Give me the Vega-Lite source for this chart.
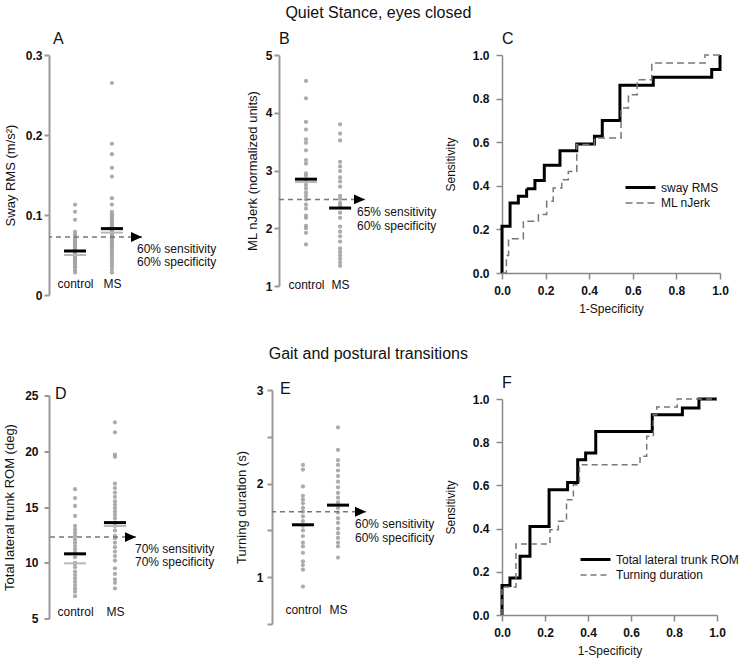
{
  "$schema": "https://vega.github.io/schema/vega-lite/v6.json",
  "background": "white",
  "padding": {"left": 3, "top": 5, "right": 5, "bottom": 5},
  "datasets": {
    "strip": [
      {"panel":"A","group":"control","value":0.113},{"panel":"A","group":"control","value":0.104},{"panel":"A","group":"control","value":0.094},{"panel":"A","group":"control","value":0.079},{"panel":"A","group":"control","value":0.076},{"panel":"A","group":"control","value":0.073},{"panel":"A","group":"control","value":0.071},{"panel":"A","group":"control","value":0.069},{"panel":"A","group":"control","value":0.067},{"panel":"A","group":"control","value":0.065},{"panel":"A","group":"control","value":0.063},{"panel":"A","group":"control","value":0.061},{"panel":"A","group":"control","value":0.059},{"panel":"A","group":"control","value":0.057},{"panel":"A","group":"control","value":0.055},{"panel":"A","group":"control","value":0.053},{"panel":"A","group":"control","value":0.051},{"panel":"A","group":"control","value":0.05},{"panel":"A","group":"control","value":0.048},{"panel":"A","group":"control","value":0.046},{"panel":"A","group":"control","value":0.044},{"panel":"A","group":"control","value":0.042},{"panel":"A","group":"control","value":0.04},{"panel":"A","group":"control","value":0.038},{"panel":"A","group":"control","value":0.036},{"panel":"A","group":"control","value":0.034},{"panel":"A","group":"control","value":0.031},{"panel":"A","group":"control","value":0.028},
      {"panel":"A","group":"MS","value":0.265},{"panel":"A","group":"MS","value":0.189},{"panel":"A","group":"MS","value":0.176},{"panel":"A","group":"MS","value":0.159},{"panel":"A","group":"MS","value":0.148},{"panel":"A","group":"MS","value":0.121},{"panel":"A","group":"MS","value":0.113},{"panel":"A","group":"MS","value":0.104},{"panel":"A","group":"MS","value":0.101},{"panel":"A","group":"MS","value":0.099},{"panel":"A","group":"MS","value":0.097},{"panel":"A","group":"MS","value":0.095},{"panel":"A","group":"MS","value":0.093},{"panel":"A","group":"MS","value":0.091},{"panel":"A","group":"MS","value":0.089},{"panel":"A","group":"MS","value":0.087},{"panel":"A","group":"MS","value":0.085},{"panel":"A","group":"MS","value":0.083},{"panel":"A","group":"MS","value":0.081},{"panel":"A","group":"MS","value":0.079},{"panel":"A","group":"MS","value":0.077},{"panel":"A","group":"MS","value":0.075},{"panel":"A","group":"MS","value":0.073},{"panel":"A","group":"MS","value":0.071},{"panel":"A","group":"MS","value":0.069},{"panel":"A","group":"MS","value":0.067},{"panel":"A","group":"MS","value":0.065},{"panel":"A","group":"MS","value":0.063},{"panel":"A","group":"MS","value":0.061},{"panel":"A","group":"MS","value":0.059},{"panel":"A","group":"MS","value":0.057},{"panel":"A","group":"MS","value":0.054},{"panel":"A","group":"MS","value":0.051},{"panel":"A","group":"MS","value":0.048},{"panel":"A","group":"MS","value":0.045},{"panel":"A","group":"MS","value":0.042},{"panel":"A","group":"MS","value":0.039},{"panel":"A","group":"MS","value":0.036},{"panel":"A","group":"MS","value":0.032},{"panel":"A","group":"MS","value":0.028},
      {"panel":"B","group":"control","value":4.55},{"panel":"B","group":"control","value":4.25},{"panel":"B","group":"control","value":3.84},{"panel":"B","group":"control","value":3.71},{"panel":"B","group":"control","value":3.54},{"panel":"B","group":"control","value":3.48},{"panel":"B","group":"control","value":3.35},{"panel":"B","group":"control","value":3.18},{"panel":"B","group":"control","value":3.12},{"panel":"B","group":"control","value":2.95},{"panel":"B","group":"control","value":2.91},{"panel":"B","group":"control","value":2.81},{"panel":"B","group":"control","value":2.75},{"panel":"B","group":"control","value":2.69},{"panel":"B","group":"control","value":2.62},{"panel":"B","group":"control","value":2.56},{"panel":"B","group":"control","value":2.5},{"panel":"B","group":"control","value":2.41},{"panel":"B","group":"control","value":2.34},{"panel":"B","group":"control","value":2.22},{"panel":"B","group":"control","value":2.18},{"panel":"B","group":"control","value":2.04},{"panel":"B","group":"control","value":2.0},{"panel":"B","group":"control","value":1.92},{"panel":"B","group":"control","value":1.72},
      {"panel":"B","group":"MS","value":3.8},{"panel":"B","group":"MS","value":3.64},{"panel":"B","group":"MS","value":3.52},{"panel":"B","group":"MS","value":3.15},{"panel":"B","group":"MS","value":3.07},{"panel":"B","group":"MS","value":2.99},{"panel":"B","group":"MS","value":2.88},{"panel":"B","group":"MS","value":2.81},{"panel":"B","group":"MS","value":2.72},{"panel":"B","group":"MS","value":2.56},{"panel":"B","group":"MS","value":2.51},{"panel":"B","group":"MS","value":2.44},{"panel":"B","group":"MS","value":2.4},{"panel":"B","group":"MS","value":2.27},{"panel":"B","group":"MS","value":2.18},{"panel":"B","group":"MS","value":2.03},{"panel":"B","group":"MS","value":1.94},{"panel":"B","group":"MS","value":1.86},{"panel":"B","group":"MS","value":1.77},{"panel":"B","group":"MS","value":1.65},{"panel":"B","group":"MS","value":1.59},{"panel":"B","group":"MS","value":1.53},{"panel":"B","group":"MS","value":1.47},{"panel":"B","group":"MS","value":1.41},{"panel":"B","group":"MS","value":1.35},
      {"panel":"D","group":"control","value":16.6},{"panel":"D","group":"control","value":15.8},{"panel":"D","group":"control","value":15.1},{"panel":"D","group":"control","value":14.2},{"panel":"D","group":"control","value":13.3},{"panel":"D","group":"control","value":13.0},{"panel":"D","group":"control","value":12.7},{"panel":"D","group":"control","value":12.4},{"panel":"D","group":"control","value":12.1},{"panel":"D","group":"control","value":11.8},{"panel":"D","group":"control","value":11.5},{"panel":"D","group":"control","value":11.2},{"panel":"D","group":"control","value":10.9},{"panel":"D","group":"control","value":10.5},{"panel":"D","group":"control","value":10.0},{"panel":"D","group":"control","value":9.9},{"panel":"D","group":"control","value":9.6},{"panel":"D","group":"control","value":9.2},{"panel":"D","group":"control","value":8.9},{"panel":"D","group":"control","value":8.6},{"panel":"D","group":"control","value":8.3},{"panel":"D","group":"control","value":8.0},{"panel":"D","group":"control","value":7.7},{"panel":"D","group":"control","value":7.4},{"panel":"D","group":"control","value":7.0},
      {"panel":"D","group":"MS","value":22.6},{"panel":"D","group":"MS","value":21.7},{"panel":"D","group":"MS","value":19.7},{"panel":"D","group":"MS","value":19.5},{"panel":"D","group":"MS","value":17.1},{"panel":"D","group":"MS","value":16.7},{"panel":"D","group":"MS","value":16.3},{"panel":"D","group":"MS","value":15.9},{"panel":"D","group":"MS","value":15.5},{"panel":"D","group":"MS","value":15.2},{"panel":"D","group":"MS","value":14.9},{"panel":"D","group":"MS","value":14.6},{"panel":"D","group":"MS","value":14.3},{"panel":"D","group":"MS","value":14.0},{"panel":"D","group":"MS","value":13.6},{"panel":"D","group":"MS","value":13.3},{"panel":"D","group":"MS","value":12.9},{"panel":"D","group":"MS","value":12.4},{"panel":"D","group":"MS","value":12.2},{"panel":"D","group":"MS","value":11.8},{"panel":"D","group":"MS","value":11.4},{"panel":"D","group":"MS","value":11.0},{"panel":"D","group":"MS","value":10.6},{"panel":"D","group":"MS","value":10.2},{"panel":"D","group":"MS","value":9.5},{"panel":"D","group":"MS","value":9.0},{"panel":"D","group":"MS","value":8.5},{"panel":"D","group":"MS","value":8.2},{"panel":"D","group":"MS","value":7.7},
      {"panel":"E","group":"control","value":2.2},{"panel":"E","group":"control","value":2.15},{"panel":"E","group":"control","value":1.97},{"panel":"E","group":"control","value":1.87},{"panel":"E","group":"control","value":1.83},{"panel":"E","group":"control","value":1.79},{"panel":"E","group":"control","value":1.74},{"panel":"E","group":"control","value":1.7},{"panel":"E","group":"control","value":1.65},{"panel":"E","group":"control","value":1.6},{"panel":"E","group":"control","value":1.55},{"panel":"E","group":"control","value":1.5},{"panel":"E","group":"control","value":1.44},{"panel":"E","group":"control","value":1.37},{"panel":"E","group":"control","value":1.33},{"panel":"E","group":"control","value":1.26},{"panel":"E","group":"control","value":1.17},{"panel":"E","group":"control","value":1.13},{"panel":"E","group":"control","value":1.08},{"panel":"E","group":"control","value":0.9},
      {"panel":"E","group":"MS","value":2.6},{"panel":"E","group":"MS","value":2.36},{"panel":"E","group":"MS","value":2.25},{"panel":"E","group":"MS","value":2.2},{"panel":"E","group":"MS","value":2.14},{"panel":"E","group":"MS","value":2.08},{"panel":"E","group":"MS","value":2.02},{"panel":"E","group":"MS","value":1.96},{"panel":"E","group":"MS","value":1.9},{"panel":"E","group":"MS","value":1.85},{"panel":"E","group":"MS","value":1.8},{"panel":"E","group":"MS","value":1.74},{"panel":"E","group":"MS","value":1.69},{"panel":"E","group":"MS","value":1.63},{"panel":"E","group":"MS","value":1.58},{"panel":"E","group":"MS","value":1.52},{"panel":"E","group":"MS","value":1.47},{"panel":"E","group":"MS","value":1.42},{"panel":"E","group":"MS","value":1.37},{"panel":"E","group":"MS","value":1.33},{"panel":"E","group":"MS","value":1.21}
    ],
    "stats": [
      {"panel":"A","group":"control","stat":"mean","value":0.055},{"panel":"A","group":"control","stat":"median","value":0.05},
      {"panel":"A","group":"MS","stat":"mean","value":0.083},{"panel":"A","group":"MS","stat":"median","value":0.078},
      {"panel":"B","group":"control","stat":"mean","value":2.85},{"panel":"B","group":"control","stat":"median","value":2.8},
      {"panel":"B","group":"MS","stat":"mean","value":2.35},
      {"panel":"D","group":"control","stat":"mean","value":10.8},{"panel":"D","group":"control","stat":"median","value":9.95},
      {"panel":"D","group":"MS","stat":"mean","value":13.6},{"panel":"D","group":"MS","stat":"median","value":13.3},
      {"panel":"E","group":"control","stat":"mean","value":1.56},
      {"panel":"E","group":"MS","stat":"mean","value":1.77}
    ],
    "thr": [
      {"panel":"A","threshold":0.0725,"line1":"60% sensitivity","line2":"60% specificity"},
      {"panel":"B","threshold":2.5,"line1":"65% sensitivity","line2":"60% specificity"},
      {"panel":"D","threshold":12.3,"line1":"70% sensitivity","line2":"70% specificity"},
      {"panel":"E","threshold":1.7,"line1":"60% sensitivity","line2":"60% specificity"}
    ],
    "roc": [
      {"panel":"C","series":"sway RMS","i":0,"fpr":0,"tpr":0},{"panel":"C","series":"sway RMS","i":1,"fpr":0,"tpr":0.214},{"panel":"C","series":"sway RMS","i":2,"fpr":0.037,"tpr":0.321},{"panel":"C","series":"sway RMS","i":3,"fpr":0.075,"tpr":0.352},{"panel":"C","series":"sway RMS","i":4,"fpr":0.113,"tpr":0.387},{"panel":"C","series":"sway RMS","i":5,"fpr":0.151,"tpr":0.424},{"panel":"C","series":"sway RMS","i":6,"fpr":0.194,"tpr":0.494},{"panel":"C","series":"sway RMS","i":7,"fpr":0.266,"tpr":0.561},{"panel":"C","series":"sway RMS","i":8,"fpr":0.343,"tpr":0.592},{"panel":"C","series":"sway RMS","i":9,"fpr":0.424,"tpr":0.627},{"panel":"C","series":"sway RMS","i":10,"fpr":0.46,"tpr":0.699},{"panel":"C","series":"sway RMS","i":11,"fpr":0.541,"tpr":0.861},{"panel":"C","series":"sway RMS","i":12,"fpr":0.694,"tpr":0.898},{"panel":"C","series":"sway RMS","i":13,"fpr":0.962,"tpr":0.933},{"panel":"C","series":"sway RMS","i":14,"fpr":1.0,"tpr":1.0},
      {"panel":"C","series":"ML nJerk","i":0,"fpr":0,"tpr":0},{"panel":"C","series":"ML nJerk","i":1,"fpr":0.02,"tpr":0.08},{"panel":"C","series":"ML nJerk","i":2,"fpr":0.03,"tpr":0.157},{"panel":"C","series":"ML nJerk","i":3,"fpr":0.098,"tpr":0.237},{"panel":"C","series":"ML nJerk","i":4,"fpr":0.167,"tpr":0.268},{"panel":"C","series":"ML nJerk","i":5,"fpr":0.205,"tpr":0.329},{"panel":"C","series":"ML nJerk","i":6,"fpr":0.235,"tpr":0.39},{"panel":"C","series":"ML nJerk","i":7,"fpr":0.274,"tpr":0.428},{"panel":"C","series":"ML nJerk","i":8,"fpr":0.304,"tpr":0.466},{"panel":"C","series":"ML nJerk","i":9,"fpr":0.343,"tpr":0.59},{"panel":"C","series":"ML nJerk","i":10,"fpr":0.424,"tpr":0.619},{"panel":"C","series":"ML nJerk","i":11,"fpr":0.546,"tpr":0.757},{"panel":"C","series":"ML nJerk","i":12,"fpr":0.58,"tpr":0.818},{"panel":"C","series":"ML nJerk","i":13,"fpr":0.62,"tpr":0.887},{"panel":"C","series":"ML nJerk","i":14,"fpr":0.687,"tpr":0.963},{"panel":"C","series":"ML nJerk","i":15,"fpr":0.931,"tpr":1.0},{"panel":"C","series":"ML nJerk","i":16,"fpr":1.0,"tpr":1.0},
      {"panel":"F","series":"Total lateral trunk ROM","i":0,"fpr":0,"tpr":0},{"panel":"F","series":"Total lateral trunk ROM","i":1,"fpr":0,"tpr":0.136},{"panel":"F","series":"Total lateral trunk ROM","i":2,"fpr":0.037,"tpr":0.171},{"panel":"F","series":"Total lateral trunk ROM","i":3,"fpr":0.084,"tpr":0.272},{"panel":"F","series":"Total lateral trunk ROM","i":4,"fpr":0.13,"tpr":0.41},{"panel":"F","series":"Total lateral trunk ROM","i":5,"fpr":0.219,"tpr":0.58},{"panel":"F","series":"Total lateral trunk ROM","i":6,"fpr":0.305,"tpr":0.614},{"panel":"F","series":"Total lateral trunk ROM","i":7,"fpr":0.352,"tpr":0.719},{"panel":"F","series":"Total lateral trunk ROM","i":8,"fpr":0.389,"tpr":0.75},{"panel":"F","series":"Total lateral trunk ROM","i":9,"fpr":0.436,"tpr":0.85},{"panel":"F","series":"Total lateral trunk ROM","i":10,"fpr":0.699,"tpr":0.927},{"panel":"F","series":"Total lateral trunk ROM","i":11,"fpr":0.839,"tpr":0.958},{"panel":"F","series":"Total lateral trunk ROM","i":12,"fpr":0.916,"tpr":1.0},{"panel":"F","series":"Total lateral trunk ROM","i":13,"fpr":1.0,"tpr":1.0},
      {"panel":"F","series":"Turning duration","i":0,"fpr":0,"tpr":0},{"panel":"F","series":"Turning duration","i":1,"fpr":0,"tpr":0.13},{"panel":"F","series":"Turning duration","i":2,"fpr":0.065,"tpr":0.329},{"panel":"F","series":"Turning duration","i":3,"fpr":0.223,"tpr":0.395},{"panel":"F","series":"Turning duration","i":4,"fpr":0.262,"tpr":0.434},{"panel":"F","series":"Turning duration","i":5,"fpr":0.3,"tpr":0.534},{"panel":"F","series":"Turning duration","i":6,"fpr":0.332,"tpr":0.603},{"panel":"F","series":"Turning duration","i":7,"fpr":0.36,"tpr":0.696},{"panel":"F","series":"Turning duration","i":8,"fpr":0.642,"tpr":0.735},{"panel":"F","series":"Turning duration","i":9,"fpr":0.673,"tpr":0.827},{"panel":"F","series":"Turning duration","i":10,"fpr":0.704,"tpr":0.927},{"panel":"F","series":"Turning duration","i":11,"fpr":0.72,"tpr":0.963},{"panel":"F","series":"Turning duration","i":12,"fpr":0.815,"tpr":1.0},{"panel":"F","series":"Turning duration","i":13,"fpr":1.0,"tpr":1.0}
    ]
  },
  "vconcat": [
    {
      "title": {"text": "Quiet Stance, eyes closed", "anchor": "middle", "fontSize": 16, "fontWeight": "normal", "offset": 10, "dx": 12},
      "bounds": "flush",
      "spacing": 137,
      "resolve": {"scale": {"color": "independent", "strokeDash": "independent", "strokeWidth": "independent"}},
      "hconcat": [
        {
          "width": 93, "height": 240,
          "title": {"text": "A", "anchor": "start", "frame": "group", "fontSize": 16, "fontWeight": "normal", "offset": 2, "dx": 4},
          "layer": [
            {"data": {"name": "strip"}, "transform": [{"filter": "datum.panel === 'A'"}],
             "mark": {"type": "circle", "size": 18, "color": "#a3a3a3", "opacity": 0.9},
             "encoding": {
               "x": {"field": "group", "type": "nominal", "scale": {"type": "point", "domain": ["control", "MS"], "padding": 0.76, "align": 0.464},
                     "axis": {"title": null, "domain": false, "ticks": false, "labelAngle": 0, "offset": -17, "labelPadding": 0, "labelFontWeight": "normal", "labelFontSize": 12}},
               "y": {"field": "value", "type": "quantitative", "scale": {"domain": [0, 0.3], "nice": false, "zero": false},
                     "axis": {"title": "Sway RMS (m/s²)", "values": [0, 0.05, 0.1, 0.15, 0.2, 0.25, 0.3], "labelExpr": "(round(datum.value*100) % 10 == 0) ? format(datum.value, '.1~f') : ''", "labelOverlap": false, "labelFontWeight": "bold", "domainWidth": 2, "tickWidth": 2, "tickSize": 5, "labelPadding": 2, "titlePadding": 8, "titleFontSize": 13}}
             }},
            {"data": {"name": "stats"}, "transform": [{"filter": "datum.panel === 'A' && datum.stat === 'median'"}],
             "mark": {"type": "tick", "color": "#b8b8b8", "opacity": 1, "thickness": 2, "size": 22},
             "encoding": {"x": {"field": "group", "type": "nominal"}, "y": {"field": "value", "type": "quantitative"}}},
            {"data": {"name": "stats"}, "transform": [{"filter": "datum.panel === 'A' && datum.stat === 'mean'"}],
             "mark": {"type": "tick", "color": "#000", "opacity": 1, "thickness": 3, "size": 22},
             "encoding": {"x": {"field": "group", "type": "nominal"}, "y": {"field": "value", "type": "quantitative"}}},
            {"data": {"name": "thr"}, "transform": [{"filter": "datum.panel === 'A'"}],
             "mark": {"type": "rule", "color": "#777", "strokeDash": [5, 4], "strokeWidth": 1.5},
             "encoding": {"y": {"field": "threshold", "type": "quantitative"}}},
            {"data": {"name": "thr"}, "transform": [{"filter": "datum.panel === 'A'"}],
             "mark": {"type": "point", "shape": "M -2 -0.9 L 0 0 L -2 0.9 Z", "size": 121, "filled": true, "color": "#000", "opacity": 1},
             "encoding": {"x": {"value": "width"}, "y": {"field": "threshold", "type": "quantitative"}}},
            {"data": {"name": "thr"}, "transform": [{"filter": "datum.panel === 'A'"}],
             "mark": {"type": "text", "align": "left", "baseline": "middle", "dx": -5, "dy": 12, "fontSize": 12, "color": "#111"},
             "encoding": {"x": {"value": "width"}, "y": {"field": "threshold", "type": "quantitative"}, "text": {"field": "line1"}}},
            {"data": {"name": "thr"}, "transform": [{"filter": "datum.panel === 'A'"}],
             "mark": {"type": "text", "align": "left", "baseline": "middle", "dx": -5, "dy": 25, "fontSize": 12, "color": "#111"},
             "encoding": {"x": {"value": "width"}, "y": {"field": "threshold", "type": "quantitative"}, "text": {"field": "line2"}}}
          ]
        },
        {
          "width": 86, "height": 231,
          "title": {"text": "B", "anchor": "start", "frame": "group", "fontSize": 16, "fontWeight": "normal", "offset": 2, "dx": 0},
          "layer": [
            {"data": {"name": "strip"}, "transform": [{"filter": "datum.panel === 'B'"}],
             "mark": {"type": "circle", "size": 18, "color": "#a3a3a3", "opacity": 0.9},
             "encoding": {
               "x": {"field": "group", "type": "nominal", "scale": {"type": "point", "domain": ["control", "MS"], "padding": 0.76, "align": 0.52},
                     "axis": {"title": null, "domain": false, "ticks": false, "labelAngle": 0, "offset": -7, "labelPadding": 0, "labelFontWeight": "normal", "labelFontSize": 12}},
               "y": {"field": "value", "type": "quantitative", "scale": {"domain": [1, 5], "nice": false, "zero": false},
                     "axis": {"title": "ML nJerk (normalized units)", "values": [1, 1.5, 2, 2.5, 3, 3.5, 4, 4.5, 5], "labelExpr": "datum.value % 1 == 0 ? format(datum.value, 'd') : ''", "labelOverlap": false, "labelFontWeight": "bold", "domainWidth": 2, "tickWidth": 2, "tickSize": 5, "labelPadding": 2, "titlePadding": 6, "titleFontSize": 13}}
             }},
            {"data": {"name": "stats"}, "transform": [{"filter": "datum.panel === 'B' && datum.stat === 'median'"}],
             "mark": {"type": "tick", "color": "#b8b8b8", "opacity": 1, "thickness": 2, "size": 22},
             "encoding": {"x": {"field": "group", "type": "nominal"}, "y": {"field": "value", "type": "quantitative"}}},
            {"data": {"name": "stats"}, "transform": [{"filter": "datum.panel === 'B' && datum.stat === 'mean'"}],
             "mark": {"type": "tick", "color": "#000", "opacity": 1, "thickness": 3, "size": 22},
             "encoding": {"x": {"field": "group", "type": "nominal"}, "y": {"field": "value", "type": "quantitative"}}},
            {"data": {"name": "thr"}, "transform": [{"filter": "datum.panel === 'B'"}],
             "mark": {"type": "rule", "color": "#777", "strokeDash": [5, 4], "strokeWidth": 1.5},
             "encoding": {"y": {"field": "threshold", "type": "quantitative"}}},
            {"data": {"name": "thr"}, "transform": [{"filter": "datum.panel === 'B'"}],
             "mark": {"type": "point", "shape": "M -2 -0.9 L 0 0 L -2 0.9 Z", "size": 121, "filled": true, "color": "#000", "opacity": 1},
             "encoding": {"x": {"value": "width"}, "y": {"field": "threshold", "type": "quantitative"}}},
            {"data": {"name": "thr"}, "transform": [{"filter": "datum.panel === 'B'"}],
             "mark": {"type": "text", "align": "left", "baseline": "middle", "dx": -8, "dy": 13, "fontSize": 12, "color": "#111"},
             "encoding": {"x": {"value": "width"}, "y": {"field": "threshold", "type": "quantitative"}, "text": {"field": "line1"}}},
            {"data": {"name": "thr"}, "transform": [{"filter": "datum.panel === 'B'"}],
             "mark": {"type": "text", "align": "left", "baseline": "middle", "dx": -8, "dy": 27, "fontSize": 12, "color": "#111"},
             "encoding": {"x": {"value": "width"}, "y": {"field": "threshold", "type": "quantitative"}, "text": {"field": "line2"}}}
          ]
        },
        {
          "width": 218, "height": 218,
          "title": {"text": "C", "anchor": "start", "frame": "group", "fontSize": 16, "fontWeight": "normal", "offset": 2, "dx": 0},
          "layer": [
            {"mark": {"type": "rule", "color": "#999", "strokeWidth": 1.3},
             "encoding": {
               "x": {"datum": 0, "type": "quantitative", "scale": {"domain": [0, 1], "nice": false},
                     "axis": {"title": "1-Specificity", "values": [0, 0.2, 0.4, 0.6, 0.8, 1], "format": ".1f", "labelFlush": false, "labelFontWeight": "bold", "domainColor": "#888", "domainWidth": 1.5, "tickColor": "#888", "tickWidth": 1.5, "tickSize": 6, "labelPadding": 6, "titlePadding": 7}},
               "y": {"datum": 0, "type": "quantitative", "scale": {"domain": [0, 1], "nice": false},
                     "axis": {"title": "Sensitivity", "values": [0, 0.2, 0.4, 0.6, 0.8, 1], "format": ".1f", "labelFlush": false, "labelFontWeight": "bold", "domainColor": "#888", "domainWidth": 1.5, "tickColor": "#888", "tickWidth": 1.5, "tickSize": 6, "labelPadding": 7, "titlePadding": 15}},
               "x2": {"datum": 1}, "y2": {"datum": 1}
             }},
            {"data": {"name": "roc"}, "transform": [{"filter": "datum.panel === 'C'"}],
             "mark": {"type": "line", "interpolate": "step-after"},
             "encoding": {
               "x": {"field": "fpr", "type": "quantitative", "title": "1-Specificity"},
               "y": {"field": "tpr", "type": "quantitative", "title": "Sensitivity"},
               "order": {"field": "i", "type": "quantitative"},
               "color": {"field": "series", "type": "nominal", "scale": {"domain": ["sway RMS", "ML nJerk"], "range": ["#000000", "#777777"]},
                         "legend": {"title": null, "orient": "none", "legendX": 140, "legendY": 125, "symbolType": "M -4 0 L 1 0", "symbolSize": 144, "labelFontSize": 12, "labelColor": "#111", "labelOffset": 4, "rowPadding": 2}},
               "strokeDash": {"field": "series", "type": "nominal", "scale": {"domain": ["sway RMS", "ML nJerk"], "range": [[1, 0], [7, 4]]}},
               "strokeWidth": {"field": "series", "type": "nominal", "scale": {"domain": ["sway RMS", "ML nJerk"], "range": [3, 1.5]}}
             }}
          ]
        }
      ]
    },
    {
      "title": {"text": "Gait and postural transitions", "anchor": "middle", "fontSize": 16, "fontWeight": "normal", "offset": 13, "dx": -3},
      "bounds": "flush",
      "center": true,
      "spacing": 136,
      "resolve": {"scale": {"color": "independent", "strokeDash": "independent", "strokeWidth": "independent"}},
      "hconcat": [
        {
          "width": 87, "height": 223,
          "title": {"text": "D", "anchor": "start", "frame": "group", "fontSize": 16, "fontWeight": "normal", "offset": -12, "dx": 6},
          "layer": [
            {"data": {"name": "strip"}, "transform": [{"filter": "datum.panel === 'D'"}],
             "mark": {"type": "circle", "size": 18, "color": "#a3a3a3", "opacity": 0.9},
             "encoding": {
               "x": {"field": "group", "type": "nominal", "scale": {"type": "point", "domain": ["control", "MS"], "padding": 0.59, "align": 0.553},
                     "axis": {"title": null, "domain": false, "ticks": false, "labelAngle": 0, "offset": -12, "labelPadding": 0, "labelFontWeight": "normal", "labelFontSize": 12}},
               "y": {"field": "value", "type": "quantitative", "scale": {"domain": [5, 25], "nice": false, "zero": false},
                     "axis": {"title": "Total lateral trunk ROM (deg)", "values": [5, 7.5, 10, 12.5, 15, 17.5, 20, 22.5, 25], "labelExpr": "datum.value % 5 == 0 ? format(datum.value, 'd') : ''", "labelOverlap": false, "labelFontWeight": "bold", "domainWidth": 2, "tickWidth": 2, "tickSize": 5, "labelPadding": 6, "titlePadding": 8, "titleFontSize": 13}}
             }},
            {"data": {"name": "stats"}, "transform": [{"filter": "datum.panel === 'D' && datum.stat === 'median'"}],
             "mark": {"type": "tick", "color": "#b8b8b8", "opacity": 1, "thickness": 2, "size": 22},
             "encoding": {"x": {"field": "group", "type": "nominal"}, "y": {"field": "value", "type": "quantitative"}}},
            {"data": {"name": "stats"}, "transform": [{"filter": "datum.panel === 'D' && datum.stat === 'mean'"}],
             "mark": {"type": "tick", "color": "#000", "opacity": 1, "thickness": 3, "size": 22},
             "encoding": {"x": {"field": "group", "type": "nominal"}, "y": {"field": "value", "type": "quantitative"}}},
            {"data": {"name": "thr"}, "transform": [{"filter": "datum.panel === 'D'"}],
             "mark": {"type": "rule", "color": "#777", "strokeDash": [5, 4], "strokeWidth": 1.5},
             "encoding": {"y": {"field": "threshold", "type": "quantitative"}}},
            {"data": {"name": "thr"}, "transform": [{"filter": "datum.panel === 'D'"}],
             "mark": {"type": "point", "shape": "M -2 -0.9 L 0 0 L -2 0.9 Z", "size": 121, "filled": true, "color": "#000", "opacity": 1},
             "encoding": {"x": {"value": "width"}, "y": {"field": "threshold", "type": "quantitative"}}},
            {"data": {"name": "thr"}, "transform": [{"filter": "datum.panel === 'D'"}],
             "mark": {"type": "text", "align": "left", "baseline": "middle", "dx": -1, "dy": 12, "fontSize": 12, "color": "#111"},
             "encoding": {"x": {"value": "width"}, "y": {"field": "threshold", "type": "quantitative"}, "text": {"field": "line1"}}},
            {"data": {"name": "thr"}, "transform": [{"filter": "datum.panel === 'D'"}],
             "mark": {"type": "text", "align": "left", "baseline": "middle", "dx": -1, "dy": 25, "fontSize": 12, "color": "#111"},
             "encoding": {"x": {"value": "width"}, "y": {"field": "threshold", "type": "quantitative"}, "text": {"field": "line2"}}}
          ]
        },
        {
          "width": 94, "height": 234,
          "title": {"text": "E", "anchor": "start", "frame": "group", "fontSize": 16, "fontWeight": "normal", "offset": -13, "dx": 8},
          "layer": [
            {"data": {"name": "strip"}, "transform": [{"filter": "datum.panel === 'E'"}],
             "mark": {"type": "circle", "size": 18, "color": "#a3a3a3", "opacity": 0.9},
             "encoding": {
               "x": {"field": "group", "type": "nominal", "scale": {"type": "point", "domain": ["control", "MS"], "padding": 0.84, "align": 0.525},
                     "axis": {"title": null, "domain": false, "ticks": false, "labelAngle": 0, "offset": -20, "labelPadding": 0, "labelFontWeight": "normal", "labelFontSize": 12}},
               "y": {"field": "value", "type": "quantitative", "scale": {"domain": [0.5, 3], "nice": false, "zero": false},
                     "axis": {"title": "Turning duration (s)", "values": [0.5, 1, 1.5, 2, 2.5, 3], "labelExpr": "datum.value % 1 == 0 ? format(datum.value, 'd') : ''", "labelOverlap": false, "labelFontWeight": "bold", "domainWidth": 2, "tickWidth": 2, "tickSize": 5, "labelPadding": 4, "titlePadding": 8, "titleFontSize": 13}}
             }},
            {"data": {"name": "stats"}, "transform": [{"filter": "datum.panel === 'E' && datum.stat === 'mean'"}],
             "mark": {"type": "tick", "color": "#000", "opacity": 1, "thickness": 3, "size": 22},
             "encoding": {"x": {"field": "group", "type": "nominal"}, "y": {"field": "value", "type": "quantitative"}}},
            {"data": {"name": "thr"}, "transform": [{"filter": "datum.panel === 'E'"}],
             "mark": {"type": "rule", "color": "#777", "strokeDash": [5, 4], "strokeWidth": 1.5},
             "encoding": {"y": {"field": "threshold", "type": "quantitative"}}},
            {"data": {"name": "thr"}, "transform": [{"filter": "datum.panel === 'E'"}],
             "mark": {"type": "point", "shape": "M -2 -0.9 L 0 0 L -2 0.9 Z", "size": 121, "filled": true, "color": "#000", "opacity": 1},
             "encoding": {"x": {"value": "width"}, "y": {"field": "threshold", "type": "quantitative"}}},
            {"data": {"name": "thr"}, "transform": [{"filter": "datum.panel === 'E'"}],
             "mark": {"type": "text", "align": "left", "baseline": "middle", "dx": -11, "dy": 12, "fontSize": 12, "color": "#111"},
             "encoding": {"x": {"value": "width"}, "y": {"field": "threshold", "type": "quantitative"}, "text": {"field": "line1"}}},
            {"data": {"name": "thr"}, "transform": [{"filter": "datum.panel === 'E'"}],
             "mark": {"type": "text", "align": "left", "baseline": "middle", "dx": -11, "dy": 26, "fontSize": 12, "color": "#111"},
             "encoding": {"x": {"value": "width"}, "y": {"field": "threshold", "type": "quantitative"}, "text": {"field": "line2"}}}
          ]
        },
        {
          "width": 215, "height": 216,
          "title": {"text": "F", "anchor": "start", "frame": "group", "fontSize": 16, "fontWeight": "normal", "offset": 2, "dx": 0},
          "layer": [
            {"mark": {"type": "rule", "color": "#cccccc", "strokeWidth": 1.2},
             "encoding": {
               "x": {"datum": 0, "type": "quantitative", "scale": {"domain": [0, 1], "nice": false},
                     "axis": {"title": "1-Specificity", "values": [0, 0.2, 0.4, 0.6, 0.8, 1], "format": ".1f", "labelFlush": false, "labelFontWeight": "bold", "domainColor": "#888", "domainWidth": 1.5, "tickColor": "#888", "tickWidth": 1.5, "tickSize": 6, "labelPadding": 6, "titlePadding": 7}},
               "y": {"datum": 0, "type": "quantitative", "scale": {"domain": [0, 1], "nice": false},
                     "axis": {"title": "Sensitivity", "values": [0, 0.2, 0.4, 0.6, 0.8, 1], "format": ".1f", "labelFlush": false, "labelFontWeight": "bold", "domainColor": "#888", "domainWidth": 1.5, "tickColor": "#888", "tickWidth": 1.5, "tickSize": 6, "labelPadding": 7, "titlePadding": 15}},
               "x2": {"datum": 1}, "y2": {"datum": 1}
             }},
            {"data": {"name": "roc"}, "transform": [{"filter": "datum.panel === 'F'"}],
             "mark": {"type": "line", "interpolate": "step-after"},
             "encoding": {
               "x": {"field": "fpr", "type": "quantitative", "title": "1-Specificity"},
               "y": {"field": "tpr", "type": "quantitative", "title": "Sensitivity"},
               "order": {"field": "i", "type": "quantitative"},
               "color": {"field": "series", "type": "nominal", "scale": {"domain": ["Total lateral trunk ROM", "Turning duration"], "range": ["#000000", "#777777"]},
                         "legend": {"title": null, "orient": "none", "legendX": 95, "legendY": 153, "symbolType": "M -4 0 L 1 0", "symbolSize": 144, "labelFontSize": 12, "labelColor": "#111", "labelOffset": 4, "rowPadding": 2}},
               "strokeDash": {"field": "series", "type": "nominal", "scale": {"domain": ["Total lateral trunk ROM", "Turning duration"], "range": [[1, 0], [6, 4]]}},
               "strokeWidth": {"field": "series", "type": "nominal", "scale": {"domain": ["Total lateral trunk ROM", "Turning duration"], "range": [3, 1.5]}}
             }}
          ]
        }
      ]
    }
  ],
  "spacing": 32,
  "resolve": {"scale": {"color": "independent", "strokeDash": "independent", "strokeWidth": "independent"}},
  "config": {
    "font": "Liberation Sans",
    "view": {"stroke": null},
    "axis": {"grid": false, "labelFont": "Liberation Sans", "titleFont": "Liberation Sans", "labelColor": "#111", "titleColor": "#111", "labelFontSize": 12, "labelFontWeight": "bold", "titleFontSize": 12, "titleFontWeight": "normal", "domainColor": "#999", "tickColor": "#999"},
    "legend": {"labelFont": "Liberation Sans"},
    "title": {"font": "Liberation Sans", "color": "#111"}
  }
}
